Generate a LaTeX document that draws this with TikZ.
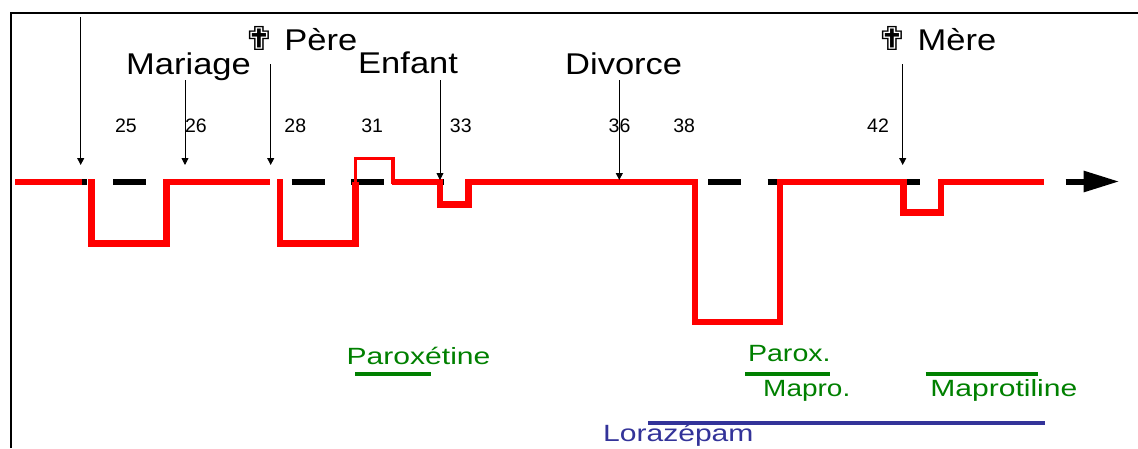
\documentclass[tikz,border=0pt]{standalone}
\usepackage{fontspec}
\setmainfont{Liberation Sans}
\newfontfamily\symfont{DejaVu Sans}
\usetikzlibrary{arrows.meta}
\definecolor{evred}{RGB}{255,0,0}
\definecolor{drgreen}{RGB}{0,128,0}
\definecolor{drblue}{RGB}{51,51,153}
\tikzset{
 big/.style={font=\fontsize{30}{36}\selectfont, inner sep=0pt, xscale=1.15},
 age/.style={font=\fontsize{19.5}{23}\selectfont, inner sep=0pt, anchor=base},
 drug/.style={font=\fontsize{23.5}{28}\selectfont, inner sep=0pt, anchor=base west, xscale=1.28},
 evarrow/.style={line width=0.9pt, -{Triangle[length=7pt,width=7pt]}},
 axisline/.style={line width=6pt, dash pattern=on 33pt off 26.5pt},
 curve/.style={draw=evred, line width=6.5pt, line join=miter},
 bump/.style={draw=evred, line width=3.5pt, line join=miter},
 bar/.style={line width=4.3pt},
}
\newcommand{\crossmark}{{\symfont\fontsize{33}{38}\selectfont ✟}}
\begin{document}
\begin{tikzpicture}[x=1pt,y=-1pt]
\useasboundingbox (0,0) rectangle (1138,448);
% frame
\draw[line width=2pt] (11,448) -- (11,13) -- (1138,13);
% axis
\draw[axisline] (53.5,181.5) -- (1040,181.5);
\draw[line width=6pt, -{Triangle[length=36pt,width=20pt]}] (1065.5,181.5) -- (1119.5,181.5);
% red curve
\draw[curve] (15,182) -- (82,182);
\draw[curve] (91.5,179) -- (91.5,243.5) -- (166.7,243.5) -- (166.7,182) -- (270,182);
\draw[curve] (280,179) -- (280,243.5) -- (355.5,243.5) -- (355.5,182);
\draw[bump] (355.5,184) -- (355.5,158.3) -- (393,158.3) -- (393,184);
\draw[curve] (391.5,182) -- (440,182) -- (440,204.5) -- (468.3,204.5) -- (468.3,182)
  -- (695,182) -- (695,322) -- (780,322) -- (780,182) -- (903.3,182) -- (903.3,212.5)
  -- (941,212.5) -- (941,182) -- (1044,182);
% event arrows
\coordinate (a1s) at (80.7,17);  \coordinate (a1e) at (80.7,165);
\coordinate (a2s) at (185,80);   \coordinate (a2e) at (185,165);
\coordinate (a3s) at (270.7,64); \coordinate (a3e) at (270.7,165);
\coordinate (a4s) at (440,80);   \coordinate (a4e) at (440,180);
\coordinate (a5s) at (619.3,80); \coordinate (a5e) at (619.3,180);
\coordinate (a6s) at (902.7,64); \coordinate (a6e) at (902.7,165);
\foreach \i in {1,...,6} \draw[evarrow] (a\i s) -- (a\i e);
% event labels
\node[big, anchor=base west] (mariage) at (126,74.5) {Mariage};
\node[big, anchor=base east] (pere) at (357.5,50) {\crossmark\ Père};
\node[big, anchor=base west] (enfant) at (358,73.5) {Enfant};
\node[big, anchor=base west] (divorce) at (565,74.5) {Divorce};
\node[big, anchor=base east] (mere) at (996.5,50) {\crossmark\ Mère};
% ages
\node[age] (n25) at (126,132) {25};
\node[age] (n26) at (196,132) {26};
\node[age] (n28) at (295.3,132) {28};
\node[age] (n31) at (372.2,132) {31};
\node[age] (n33) at (460.8,132) {33};
\node[age] (n36) at (619.5,132) {36};
\node[age] (n38) at (684.2,132) {38};
\node[age] (n42) at (878,132) {42};
% drugs
\draw[bar, drgreen] (355,374) -- (431,374);
\draw[bar, drgreen] (745,374) -- (830,374);
\draw[bar, drgreen] (925.7,374) -- (1038,374);
\draw[bar, drblue] (648,423) -- (1045,423);
\node[drug, text=drgreen] (parox1) at (346.4,364) {Paroxétine};
\node[drug, text=drgreen, xscale=0.95] (parox2) at (747.8,361.7) {Parox.};
\node[drug, text=drgreen, xscale=0.93] (mapro) at (763,396.5) {Mapro.};
\node[drug, text=drgreen] (maprot) at (930,396.5) {Maprotiline};
\node[drug, text=drblue] (loraz) at (602.8,441) {Lorazépam};
\end{tikzpicture}
\end{document}
